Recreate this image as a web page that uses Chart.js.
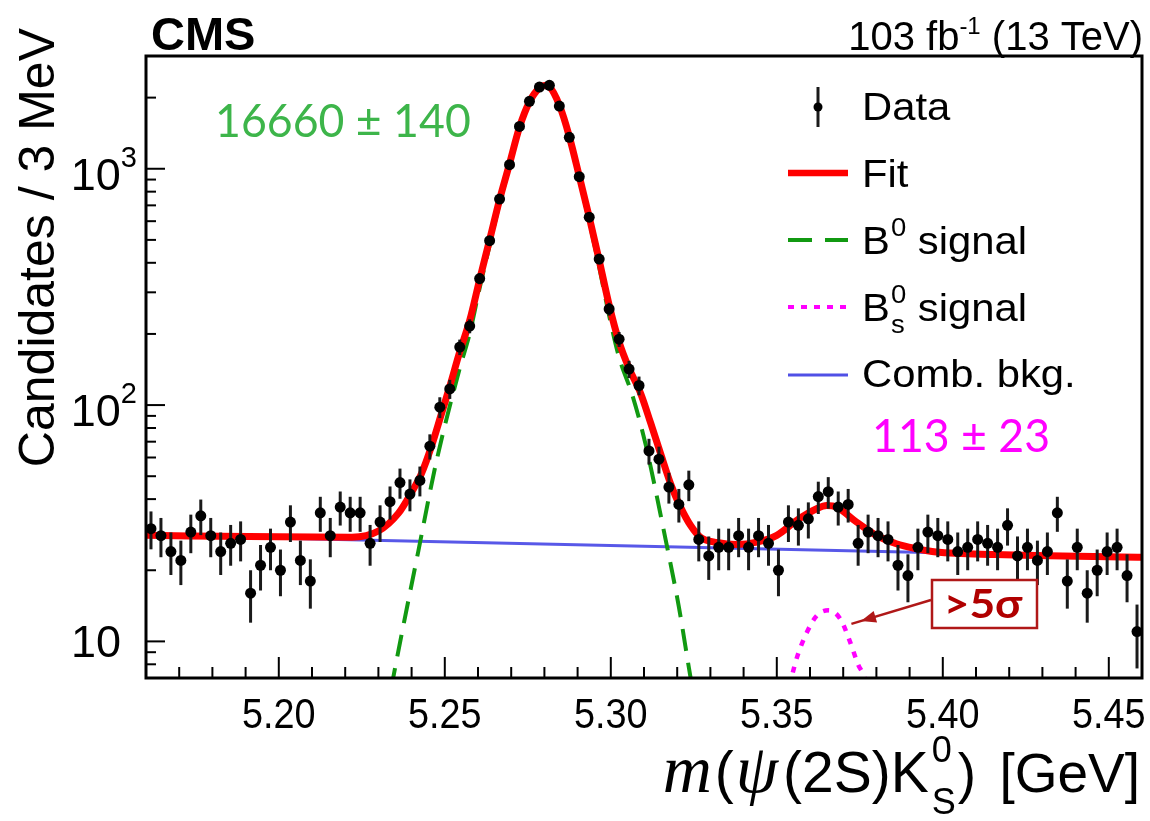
<!DOCTYPE html>
<html>
<head>
<meta charset="utf-8">
<script src="https://cdn.jsdelivr.net/npm/chart.js@4.4.1/dist/chart.umd.min.js"></script>
<style>
  html, body { margin: 0; padding: 0; background: #fff; }
  #wrap { width: 1150px; height: 821px; }
</style>
</head>
<body>
<div id="wrap"><canvas id="massChart" width="1150" height="821"></canvas></div>
<script>
// histogram: 100 bins of 3 MeV from 5.16 GeV
const massMin = 5.16;
const massMax = 5.46;
const binWidth = 0.003;
const counts = [30, 28, 24, 22, 29, 34, 28, 24, 26, 27,
  16, 21, 25, 20, 32, 22, 18, 35, 28, 37,
  35, 35, 26, 32, 39, 47, 42, 48, 67, 98,
  117, 176, 216, 343, 496, 744, 1041, 1511, 1929, 2217,
  2254, 1842, 1358, 926, 624, 415, 255, 190, 142, 121,
  64, 59, 45, 38, 46, 27, 23, 25, 25, 28,
  25, 28, 26, 20, 32, 31, 33, 41, 43, 37,
  38, 26, 29, 28, 27, 21, 19, 25, 29, 28,
  27, 24, 25, 27, 26, 25, 31, 23, 25, 22,
  24, 35, 18, 25, 16, 20, 24, 25, 19, 11];

// total fit
const fitMass = [5.160, 5.200, 5.222, 5.230, 5.236, 5.240, 5.243, 5.246, 5.249, 5.2515,
  5.2545, 5.2575, 5.2605, 5.2635, 5.2665, 5.2695, 5.2725, 5.2755, 5.2785, 5.2800,
  5.2815, 5.2845, 5.2875, 5.2905, 5.2935, 5.2965, 5.2995, 5.3025, 5.3055, 5.309,
  5.312, 5.315, 5.318, 5.321, 5.324, 5.327, 5.332, 5.338, 5.344, 5.350,
  5.356, 5.362, 5.365, 5.368, 5.374, 5.380, 5.386, 5.392, 5.398, 5.416, 5.460];
const fitValues = [28.1, 27.7, 27.6, 29.3, 34.8, 42.8, 51.4, 67, 92, 120,
  168, 228, 340, 500, 740, 1050, 1500, 1920, 2200, 2250,
  2220, 1860, 1370, 930, 625, 410, 265, 185, 143, 112,
  84, 62.3, 46.5, 37.0, 31.0, 27.6, 26.2, 25.7, 26.3, 28.1,
  32.5, 36.4, 37.6, 37.0, 32.0, 28.1, 25.9, 24.7, 23.9, 23.3, 22.7];

// B0 signal component (green dashed)
const b0Mass = [5.2320, 5.2345, 5.2420, 5.2475, 5.2545, 5.2575, 5.2605, 5.2635, 5.2665, 5.2695,
  5.2725, 5.2755, 5.2785, 5.2800, 5.2815, 5.2845, 5.2875, 5.2905, 5.2935, 5.2965,
  5.2995, 5.3025, 5.3065, 5.3105, 5.3165, 5.3205, 5.3240, 5.3265];
const b0Values = [4.5, 7.06, 24, 58, 143, 201, 313, 473, 713, 1023,
  1473, 1893, 2173, 2223, 2193, 1833, 1343, 903, 598, 384,
  239, 159, 110, 68, 27, 14, 7.06, 4.5];

// Bs0 signal component (magenta dotted)
const bsMass = [5.350, 5.3546, 5.3561, 5.3591, 5.3621, 5.3656, 5.3691, 5.3721, 5.3746, 5.3762, 5.3812];
const bsValues = [3.8, 7.18, 8.58, 10.95, 12.88, 13.53, 12.47, 9.93, 7.91, 7.18, 3.8];

// combinatorial background (blue)
const bkgMass = [5.16, 5.46];
const bkgValues = [28.1, 22.7];

// axis ticks
const xMajorTicks = [5.20, 5.25, 5.30, 5.35, 5.40, 5.45];
const xMinorTicks = [5.17, 5.18, 5.19, 5.21, 5.22, 5.23, 5.24, 5.26, 5.27, 5.28, 5.29,
  5.31, 5.32, 5.33, 5.34, 5.36, 5.37, 5.38, 5.39, 5.41, 5.42, 5.43, 5.44];
const yMajorTicks = [10, 100, 1000];
const yMinorTicks = [7, 8, 9, 20, 30, 40, 50, 60, 70, 80, 90,
  200, 300, 400, 500, 600, 700, 800, 900, 2000];
const yTickExponents = ['', '2', '3'];

const SANS = '"Liberation Sans", Arial, Helvetica, sans-serif';
const SERIF = '"Liberation Serif", "Times New Roman", serif';
const GEO = 'Lato, "Noto Sans", sans-serif';

function toPoints(xs, ys) {
  return xs.map(function(x, i) { return { x: x, y: ys[i] }; });
}

const dataPoints = counts.map(function(n, i) {
  return { x: massMin + binWidth * (i + 0.5), y: n };
});

// text with optional horizontal squeeze, returns drawn width
function drawText(ctx, s, x, y, font, color, align, sx) {
  sx = sx || 1;
  ctx.save();
  ctx.font = font;
  ctx.fillStyle = color;
  ctx.textBaseline = 'alphabetic';
  ctx.textAlign = 'left';
  const w = ctx.measureText(s).width * sx;
  let x0 = x;
  if (align === 'right') x0 = x - w;
  else if (align === 'center') x0 = x - w / 2;
  ctx.translate(x0, y);
  ctx.scale(sx, 1);
  ctx.fillText(s, 0, 0);
  ctx.restore();
  return w;
}

function textWidth(ctx, s, font, sx) {
  ctx.save();
  ctx.font = font;
  const w = ctx.measureText(s).width * (sx || 1);
  ctx.restore();
  return w;
}

// error bars under the markers
const errorBars = {
  id: 'errorBars',
  beforeDatasetDraw(chart, args) {
    if (args.index !== 0) return;
    const ctx = chart.ctx;
    const xs = chart.scales.x, ys = chart.scales.y;
    const area = chart.chartArea;
    ctx.save();
    ctx.beginPath();
    ctx.rect(area.left, area.top, area.right - area.left, area.bottom - area.top);
    ctx.clip();
    ctx.strokeStyle = '#1a1a1a';
    ctx.lineWidth = 3;
    dataPoints.forEach(function(p) {
      const e = Math.sqrt(p.y);
      const px = xs.getPixelForValue(p.x);
      ctx.beginPath();
      ctx.moveTo(px, ys.getPixelForValue(Math.max(p.y - e, 0.5)));
      ctx.lineTo(px, ys.getPixelForValue(p.y + e));
      ctx.stroke();
    });
    ctx.restore();
  }
};

// ROOT-like frame, ticks, labels, legend and annotations
const decorations = {
  id: 'decorations',
  afterDraw(chart) {
    const ctx = chart.ctx;
    const a = chart.chartArea;
    const xs = chart.scales.x, ys = chart.scales.y;

    // ticks (inward)
    ctx.save();
    ctx.strokeStyle = '#000';
    ctx.lineWidth = 2;
    xMajorTicks.forEach(function(v) {
      const px = xs.getPixelForValue(v);
      ctx.beginPath(); ctx.moveTo(px, a.bottom); ctx.lineTo(px, a.bottom - 21); ctx.stroke();
    });
    xMinorTicks.forEach(function(v) {
      const px = xs.getPixelForValue(v);
      ctx.beginPath(); ctx.moveTo(px, a.bottom); ctx.lineTo(px, a.bottom - 11); ctx.stroke();
    });
    yMajorTicks.forEach(function(v) {
      const py = ys.getPixelForValue(v);
      ctx.beginPath(); ctx.moveTo(a.left, py); ctx.lineTo(a.left + 19, py); ctx.stroke();
    });
    yMinorTicks.forEach(function(v) {
      const py = ys.getPixelForValue(v);
      ctx.beginPath(); ctx.moveTo(a.left, py); ctx.lineTo(a.left + 10, py); ctx.stroke();
    });
    // frame
    ctx.lineWidth = 3;
    ctx.strokeRect(a.left, a.top, a.right - a.left, a.bottom - a.top);
    ctx.restore();

    // x tick labels
    xMajorTicks.forEach(function(v) {
      drawText(ctx, v.toFixed(2), xs.getPixelForValue(v), 728, '42px ' + SANS, '#000', 'center', 0.9);
    });
    // y tick labels
    yMajorTicks.forEach(function(v, i) {
      const py = ys.getPixelForValue(v);
      const sup = yTickExponents[i];
      if (sup) {
        const wSup = textWidth(ctx, sup, '29px ' + SANS);
        drawText(ctx, sup, 137, py - 2, '29px ' + SANS, '#000', 'right');
        drawText(ctx, '10', 137 - wSup, py + 21, '45px ' + SANS, '#000', 'right');
      } else {
        drawText(ctx, '10', 121, py + 16, '45px ' + SANS, '#000', 'right');
      }
    });

    // y title
    ctx.save();
    ctx.translate(54, 28);
    ctx.rotate(-Math.PI / 2);
    drawText(ctx, 'Candidates / 3 MeV', 0, 0, '50px ' + SANS, '#000', 'right', 1.0);
    ctx.restore();

    // x title: m(psi(2S)K0S) [GeV]
    const fx = '57px ' + SANS;
    const fTail = '55px ' + SANS;
    const fSmall = '36px ' + SANS;
    const parts = [
      { s: 'm', f: 'italic 68px ' + SERIF, gap: 3 },
      { s: '(', f: fx, gap: 2 },
      { s: '\u03C8', f: 'italic 68px ' + SERIF, gap: 5 },
      { s: '(2S)K', f: fx, gap: 2 }
    ];
    const tail = ') [GeV]';
    let total = 0;
    parts.forEach(function(p) { total += textWidth(ctx, p.s, p.f) + p.gap; });
    const wSupSub = Math.max(textWidth(ctx, '0', fSmall), textWidth(ctx, 'S', fSmall)) + 3;
    total += wSupSub + textWidth(ctx, tail, fTail) + 8;
    let cx = 1140 - total;
    const by = 792;
    parts.forEach(function(p) { cx += drawText(ctx, p.s, cx, by, p.f, '#000', 'left') + p.gap; });
    drawText(ctx, '0', cx + 1, by - 30, fSmall, '#000', 'left');
    drawText(ctx, 'S', cx + 1, by + 22, fSmall, '#000', 'left');
    cx += wSupSub;
    cx += drawText(ctx, ')', cx, by, fTail, '#000', 'left') + 8;
    drawText(ctx, ' [GeV]', cx, by, fTail, '#000', 'left');

    // header
    drawText(ctx, 'CMS', 151, 50, 'bold 47px ' + SANS, '#000', 'left');
    let hx = 1143;
    hx -= drawText(ctx, ' (13 TeV)', hx, 50, '40px ' + SANS, '#000', 'right', 1.0);
    hx -= drawText(ctx, '-1', hx, 34, '24px ' + SANS, '#000', 'right', 1.0);
    drawText(ctx, '103 fb', hx, 50, '40px ' + SANS, '#000', 'right', 1.0);

    // legend
    const lf = '38px ' + SANS;
    const lsx = 1.1;
    const tx = 862;
    ctx.save();
    // Data
    ctx.strokeStyle = '#1a1a1a'; ctx.lineWidth = 3;
    ctx.beginPath(); ctx.moveTo(818, 87); ctx.lineTo(818, 127); ctx.stroke();
    ctx.fillStyle = '#000';
    ctx.beginPath(); ctx.arc(818, 107, 4.5, 0, Math.PI * 2); ctx.fill();
    // Fit
    ctx.strokeStyle = '#ff0000'; ctx.lineWidth = 6.5;
    ctx.beginPath(); ctx.moveTo(788, 173); ctx.lineTo(848, 173); ctx.stroke();
    // B0
    ctx.strokeStyle = '#119911'; ctx.lineWidth = 4; ctx.setLineDash([24, 13]);
    ctx.beginPath(); ctx.moveTo(788, 240); ctx.lineTo(848, 240); ctx.stroke();
    // Bs
    ctx.strokeStyle = '#ff00ff'; ctx.lineWidth = 4; ctx.setLineDash([6, 7]);
    ctx.beginPath(); ctx.moveTo(788, 307); ctx.lineTo(848, 307); ctx.stroke();
    // bkg
    ctx.setLineDash([]);
    ctx.strokeStyle = '#5050e6'; ctx.lineWidth = 3;
    ctx.beginPath(); ctx.moveTo(788, 375); ctx.lineTo(848, 375); ctx.stroke();
    ctx.restore();

    drawText(ctx, 'Data', tx, 120, lf, '#000', 'left', lsx);
    drawText(ctx, 'Fit', tx, 187, lf, '#000', 'left', lsx);
    let bx = tx + drawText(ctx, 'B', tx, 254, lf, '#000', 'left', lsx);
    bx += drawText(ctx, '0', bx + 1, 236, '25px ' + SANS, '#000', 'left', lsx);
    drawText(ctx, ' signal', bx + 1, 254, lf, '#000', 'left', lsx);
    bx = tx + drawText(ctx, 'B', tx, 321, lf, '#000', 'left', lsx);
    const ws = drawText(ctx, '0', bx + 1, 303, '25px ' + SANS, '#000', 'left', lsx);
    drawText(ctx, 's', bx + 1, 333, '25px ' + SANS, '#000', 'left', lsx);
    drawText(ctx, ' signal', bx + ws + 1, 321, lf, '#000', 'left', lsx);
    drawText(ctx, 'Comb. bkg.', tx, 387, lf, '#000', 'left', lsx);

    // yields
    drawText(ctx, '16660 \u00B1 140', 215, 137, '46px ' + GEO, '#3db54a', 'left', 0.97);
    drawText(ctx, '113 \u00B1 23', 872, 452, '46px ' + GEO, '#ff00ff', 'left', 0.97);

    // significance box + arrow
    ctx.save();
    ctx.fillStyle = '#fff';
    ctx.fillRect(932, 580, 105, 48);
    ctx.strokeStyle = '#b01818'; ctx.lineWidth = 2.5;
    ctx.strokeRect(932, 580, 105, 48);
    ctx.strokeStyle = '#b01818'; ctx.fillStyle = '#b01818'; ctx.lineWidth = 2.5;
    const ax0 = 931, ay0 = 600, ax1 = 861, ay1 = 621;
    const ang = Math.atan2(ay1 - ay0, ax1 - ax0);
    ctx.beginPath(); ctx.moveTo(ax0, ay0); ctx.lineTo(ax1 + 10 * Math.cos(ang), ay1 + 10 * Math.sin(ang)); ctx.stroke();
    ctx.beginPath();
    ctx.moveTo(ax1, ay1);
    ctx.lineTo(ax1 - 15 * Math.cos(ang) + 6 * Math.sin(ang), ay1 - 15 * Math.sin(ang) - 6 * Math.cos(ang));
    ctx.lineTo(ax1 - 15 * Math.cos(ang) - 6 * Math.sin(ang), ay1 - 15 * Math.sin(ang) + 6 * Math.cos(ang));
    ctx.closePath(); ctx.fill();
    ctx.restore();
    drawText(ctx, '>5\u03C3', 983, 618, 'bold 41px ' + GEO, '#b00000', 'center', 1.08);
  }
};

const massChart = new Chart(document.getElementById('massChart').getContext('2d'), {
  type: 'scatter',
  data: {
    datasets: [
      {
        label: 'Data',
        data: dataPoints,
        pointRadius: 5.5,
        pointBackgroundColor: '#000',
        pointBorderWidth: 0,
        showLine: false
      },
      {
        label: 'Fit',
        data: toPoints(fitMass, fitValues),
        showLine: true,
        pointRadius: 0,
        borderColor: '#ff0000',
        borderWidth: 7,
        cubicInterpolationMode: 'monotone'
      },
      {
        label: 'B0 signal',
        data: toPoints(b0Mass, b0Values),
        showLine: true,
        pointRadius: 0,
        borderColor: '#119911',
        borderWidth: 4,
        borderDash: [22, 12],
        cubicInterpolationMode: 'monotone'
      },
      {
        label: 'Bs0 signal',
        data: toPoints(bsMass, bsValues),
        showLine: true,
        pointRadius: 0,
        borderColor: '#ff00ff',
        borderWidth: 4.5,
        borderDash: [6, 8],
        cubicInterpolationMode: 'monotone'
      },
      {
        label: 'Comb. bkg.',
        data: toPoints(bkgMass, bkgValues),
        showLine: true,
        pointRadius: 0,
        borderColor: 'rgba(70, 70, 230, 0.9)',
        borderWidth: 3
      }
    ]
  },
  options: {
    responsive: false,
    devicePixelRatio: 1,
    animation: false,
    layout: { padding: { top: 56, right: 8, left: 0, bottom: 0 } },
    plugins: {
      legend: { display: false },
      tooltip: { enabled: false }
    },
    scales: {
      x: {
        type: 'linear',
        min: massMin,
        max: massMax,
        grid: { display: false },
        border: { display: false },
        ticks: { display: false },
        afterFit: function(scale) { scale.height = 821 - 678; }
      },
      y: {
        type: 'logarithmic',
        min: 7,
        max: 3000,
        grid: { display: false },
        border: { display: false },
        ticks: { display: false },
        afterFit: function(scale) { scale.width = 146; }
      }
    }
  },
  plugins: [errorBars, decorations]
});
</script>
</body>
</html>
